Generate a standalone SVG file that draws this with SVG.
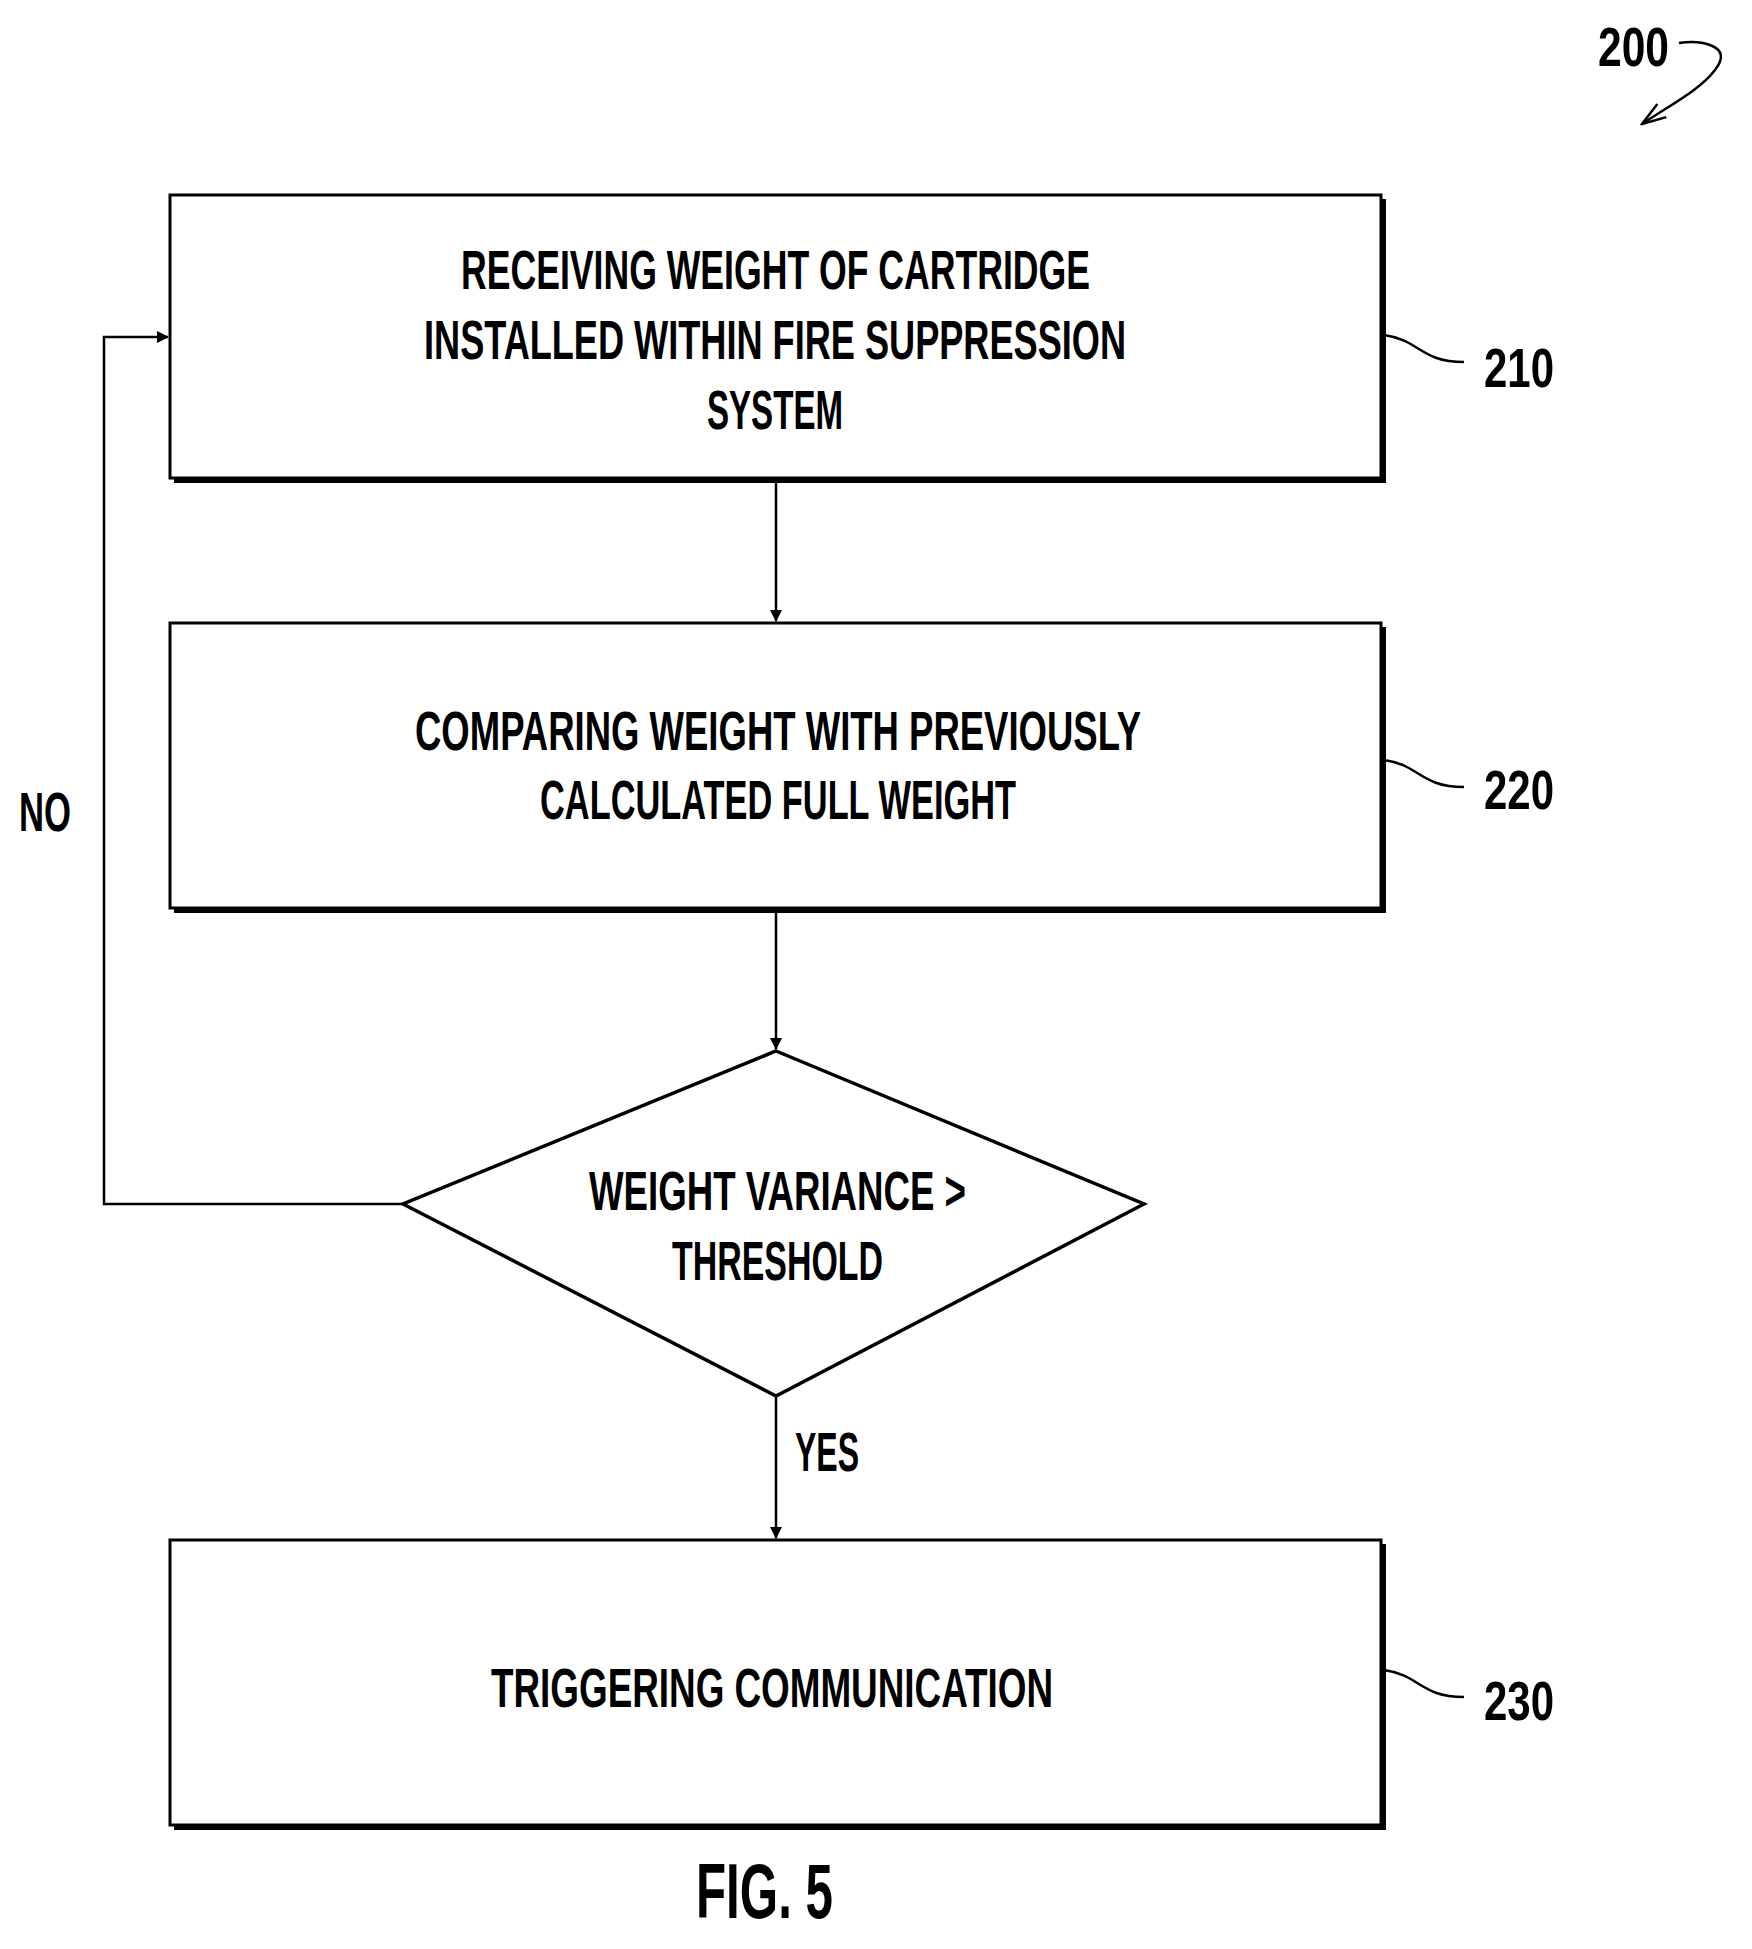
<svg xmlns="http://www.w3.org/2000/svg" width="1752" height="1949" viewBox="0 0 1752 1949">
<style>
.b{fill:#fff;stroke:#000;stroke-width:3}
.sh{fill:none;stroke:#000;stroke-width:4}
.t{font-family:"Liberation Sans",Arial,sans-serif;font-size:56px;font-weight:bold;fill:#000}
.c{fill:none;stroke:#000;stroke-width:2.5}
</style>
<defs><marker id="a" markerWidth="12" markerHeight="12" refX="11" refY="6" orient="auto" markerUnits="userSpaceOnUse"><path d="M0,0 L12,6 L0,12 Z" fill="#000"/></marker>
<marker id="o" markerWidth="26" markerHeight="20" refX="24" refY="10" orient="auto" markerUnits="userSpaceOnUse"><path d="M0,2 L24,10 L0,18" fill="none" stroke="#000" stroke-width="2.5"/></marker></defs>
<g id="n210"><rect class="b" x="170" y="195" width="1211" height="283"/><path class="sh" d="M1384,199 V481 H174"/>
<text class="t" x="461" y="289" textLength="629" lengthAdjust="spacingAndGlyphs">RECEIVING WEIGHT OF CARTRIDGE</text>
<text class="t" x="424" y="359" textLength="702" lengthAdjust="spacingAndGlyphs">INSTALLED WITHIN FIRE SUPPRESSION</text>
<text class="t" x="707" y="429" textLength="136" lengthAdjust="spacingAndGlyphs">SYSTEM</text></g>
<g id="n220"><rect class="b" x="170" y="623" width="1211" height="285"/><path class="sh" d="M1384,627 V911 H174"/>
<text class="t" x="415" y="750" textLength="726" lengthAdjust="spacingAndGlyphs">COMPARING WEIGHT WITH PREVIOUSLY</text>
<text class="t" x="540" y="819" textLength="476" lengthAdjust="spacingAndGlyphs">CALCULATED FULL WEIGHT</text></g>
<g id="dec"><path d="M776,1051 L1144,1204 L776,1396 L403,1204 Z" fill="#fff" stroke="#000" stroke-width="3.5"/>
<text class="t" x="589" y="1210" textLength="377" lengthAdjust="spacingAndGlyphs">WEIGHT VARIANCE &gt;</text>
<text class="t" x="672" y="1280" textLength="211" lengthAdjust="spacingAndGlyphs">THRESHOLD</text></g>
<g id="n230"><rect class="b" x="170" y="1540" width="1211" height="285"/><path class="sh" d="M1384,1544 V1828 H174"/>
<text class="t" x="491" y="1707" textLength="562" lengthAdjust="spacingAndGlyphs">TRIGGERING COMMUNICATION</text></g>
<g id="connectors">
<line class="c" x1="776" y1="478" x2="776" y2="621" marker-end="url(#a)"/>
<line class="c" x1="776" y1="908" x2="776" y2="1049" marker-end="url(#a)"/>
<line class="c" x1="776" y1="1396" x2="776" y2="1538" marker-end="url(#a)"/>
<path class="c" d="M403,1204 H104 V337 H168" marker-end="url(#a)"/>
<path class="c" d="M1384,335 C1420,340 1420,362 1464,362"/>
<path class="c" d="M1384,760 C1420,765 1420,787 1464,787"/>
<path class="c" d="M1384,1670 C1420,1675 1420,1697 1464,1697"/>
<path class="c" d="M1679,43 C1700,40 1735,45 1715,70 C1700,90 1670,105 1642,124" marker-end="url(#o)"/>
</g>
<g id="labels">
<text class="t" x="19" y="831" textLength="52" lengthAdjust="spacingAndGlyphs">NO</text>
<text class="t" x="795" y="1471" textLength="64" lengthAdjust="spacingAndGlyphs">YES</text>
<text class="t" x="1484" y="387" textLength="70" lengthAdjust="spacingAndGlyphs">210</text>
<text class="t" x="1484" y="809" textLength="70" lengthAdjust="spacingAndGlyphs">220</text>
<text class="t" x="1484" y="1720" textLength="70" lengthAdjust="spacingAndGlyphs">230</text>
<text class="t" x="1598" y="66" textLength="71" lengthAdjust="spacingAndGlyphs">200</text>
<text class="t" x="696" y="1918" style="font-size:78px" textLength="137" lengthAdjust="spacingAndGlyphs">FIG. 5</text>
</g>
</svg>
